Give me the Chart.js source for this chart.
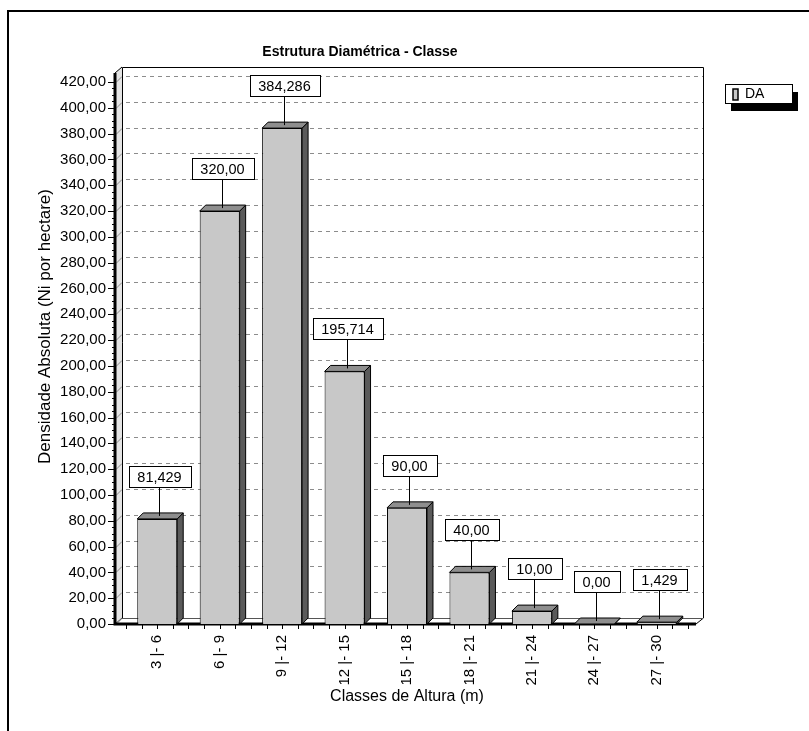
<!DOCTYPE html>
<html>
<head>
<meta charset="utf-8">
<script src="https://cdn.jsdelivr.net/npm/chart.js@4/dist/chart.umd.min.js"></script>
<style>
  html, body { margin: 0; padding: 0; background: #fff; }
  canvas { display: block; }
</style>
</head>
<body>
<canvas id="chart" width="809" height="731"></canvas>
<script>
// Height classes and absolute density per class
const categories = ['3 |- 6', '6 |- 9', '9 |- 12', '12 |- 15', '15 |- 18', '18 |- 21', '21 |- 24', '24 |- 27', '27 |- 30'];
const daValues = [81.429, 320, 384.286, 195.714, 90, 40, 10, 0, 1.429];
const seriesName = 'DA';
const chartTitle = 'Estrutura Diamétrica - Classe';
const xTitle = 'Classes de Altura (m)';
const yTitle = 'Densidade Absoluta (Ni por hectare)';
const yMin = 0;
const yMax = 427;
const yStep = 20;
const yLastTick = 420;

const FONT = "'Liberation Sans', Arial, Helvetica, sans-serif";

// Brazilian number format: 2 decimals, or 3 when needed
function fmt(v) {
  let s = v.toFixed(3);
  if (s.endsWith('0')) s = v.toFixed(2);
  return s.replace('.', ',');
}

function poly(ctx, pts, fill, stroke) {
  ctx.beginPath();
  ctx.moveTo(pts[0][0], pts[0][1]);
  for (let i = 1; i < pts.length; i++) ctx.lineTo(pts[i][0], pts[i][1]);
  ctx.closePath();
  if (fill) { ctx.fillStyle = fill; ctx.fill(); }
  if (stroke) { ctx.strokeStyle = stroke; ctx.stroke(); }
}

// Depth of the walls and of the bars
const WALL_DX = 7, WALL_DY = 6, BAR_D = 6;

const frame3d = {
  id: 'frame3d',
  beforeDraw(chart) {
    const { ctx, chartArea: a } = chart;
    ctx.save();
    ctx.fillStyle = '#fff';
    ctx.fillRect(0, 0, chart.width, chart.height);
    ctx.strokeStyle = '#000';
    ctx.lineWidth = 2;
    ctx.strokeRect(8, 11, chart.width + 40, chart.height + 40);
    ctx.fillStyle = '#000';
    ctx.font = `bold 14px ${FONT}`;
    ctx.textAlign = 'center';
    ctx.textBaseline = 'middle';
    ctx.fillText(chartTitle, 360, 52);
    // vertical axis title
    ctx.font = `17px ${FONT}`;
    ctx.translate(45, (a.top + a.bottom) / 2 - 22);
    ctx.rotate(-Math.PI / 2);
    ctx.fillText(yTitle, 0, 0);
    ctx.restore();
  },
  beforeDatasetsDraw(chart) {
    const { ctx, chartArea: a, scales: { y } } = chart;
    const FL = a.left - 11, FR = a.right + 8, FT = a.top, FB = a.bottom;
    const dx = WALL_DX, dy = WALL_DY;
    ctx.save();
    ctx.lineWidth = 1;
    // back wall
    ctx.fillStyle = '#fff';
    ctx.fillRect(FL + dx, FT - dy, FR - FL, FB - FT);
    // floor
    poly(ctx, [[FL, FB], [FR, FB], [FR + dx, FB - dy], [FL + dx, FB - dy]], '#fff', null);
    // left wall
    poly(ctx, [[FL, FB], [FL + dx, FB - dy], [FL + dx, FT - dy], [FL, FT]], '#e4e4e4', null);
    // dashed grid on the back wall, short marks on the left wall
    ctx.strokeStyle = '#8c8c8c';
    for (let v = 0; v <= yLastTick; v += yStep) {
      const py = Math.round(y.getPixelForValue(v));
      ctx.setLineDash([4, 4]);
      ctx.beginPath();
      ctx.moveTo(FL + dx + 4, py - dy + 0.5);
      ctx.lineTo(FR + dx, py - dy + 0.5);
      ctx.stroke();
      ctx.setLineDash([]);
      ctx.beginPath();
      ctx.moveTo(FL + 1, py + 0.5);
      ctx.lineTo(FL + dx, py - dy + 0.5);
      ctx.stroke();
    }
    ctx.setLineDash([]);
    // outlines
    ctx.strokeStyle = '#000';
    ctx.beginPath();
    ctx.moveTo(FL + dx + 0.5, FB - dy);
    ctx.lineTo(FL + dx + 0.5, FT - dy + 0.5);
    ctx.lineTo(FR + dx + 0.5, FT - dy + 0.5);
    ctx.lineTo(FR + dx + 0.5, FB - dy);
    ctx.lineTo(FR, FB);
    ctx.stroke();
    ctx.beginPath();
    ctx.moveTo(FL, FT);
    ctx.lineTo(FL + dx, FT - dy);
    ctx.stroke();
    ctx.strokeStyle = '#555';
    ctx.beginPath();
    ctx.moveTo(FL + dx, FB - dy + 0.5);
    ctx.lineTo(FR + dx, FB - dy + 0.5);
    ctx.stroke();
    ctx.beginPath();
    ctx.moveTo(FL, FB);
    ctx.lineTo(FL + dx, FB - dy);
    ctx.stroke();
    // front axis lines
    ctx.strokeStyle = '#000';
    ctx.lineWidth = 3;
    ctx.beginPath();
    ctx.moveTo(FL, FT);
    ctx.lineTo(FL, FB);
    ctx.lineTo(FR, FB);
    ctx.stroke();
    // y tick marks (major every 20, minor every 5)
    ctx.lineWidth = 1;
    for (let v = 0; v <= yLastTick; v += 5) {
      const py = Math.round(y.getPixelForValue(v)) + 0.5;
      const len = v % yStep === 0 ? 6 : 2;
      ctx.beginPath();
      ctx.moveTo(FL - 1 - len, py);
      ctx.lineTo(FL - 1, py);
      ctx.stroke();
    }
    // x tick marks every quarter class
    const step = (a.right - a.left) / categories.length / 4;
    for (let i = 0; i <= categories.length * 4; i++) {
      const px = Math.round(a.left + i * step) + 0.5;
      ctx.beginPath();
      ctx.moveTo(px, FB + 1);
      ctx.lineTo(px, FB + 5);
      ctx.stroke();
    }
    ctx.restore();
  },
  afterDatasetsDraw(chart) {
    const { ctx } = chart;
    const meta = chart.getDatasetMeta(0);
    ctx.save();
    ctx.lineWidth = 1;
    meta.data.forEach((bar) => {
      const { x, y: top, base, width } = bar.getProps(['x', 'y', 'base', 'width'], true);
      const l = x - width / 2, r = x + width / 2, d = BAR_D;
      poly(ctx, [[r, top], [r + d, top - d], [r + d, base - d], [r, base]], '#5a5a5a', '#000');
      poly(ctx, [[l, top], [l + d, top - d], [r + d, top - d], [r, top]], '#8e8e8e', '#000');
    });
    // value labels with leader lines
    ctx.font = `14.5px ${FONT}`;
    ctx.textAlign = 'center';
    ctx.textBaseline = 'middle';
    meta.data.forEach((bar, i) => {
      const { x, y: top } = bar.getProps(['x', 'y'], true);
      const txt = fmt(daValues[i]);
      const lx = Math.round(x + 2) + 0.5;
      const boxBottom = Math.round(top - 32);
      const bw = Math.round(ctx.measureText(txt).width + 18);
      const bh = 21;
      ctx.strokeStyle = '#000';
      ctx.beginPath();
      ctx.moveTo(lx, top - 3);
      ctx.lineTo(lx, boxBottom);
      ctx.stroke();
      const bx = Math.round(lx - bw / 2) + 0.5;
      ctx.fillStyle = '#fff';
      ctx.fillRect(bx, boxBottom - bh + 0.5, bw, bh);
      ctx.strokeRect(bx, boxBottom - bh + 0.5, bw, bh);
      ctx.fillStyle = '#000';
      ctx.fillText(txt, lx, boxBottom - bh / 2 + 1);
    });
    ctx.restore();
  },
  afterDraw(chart) {
    // legend box with drop shadow
    const { ctx } = chart;
    ctx.save();
    const lx = 725, ly = 84, lw = 67, lh = 19;
    ctx.fillStyle = '#000';
    ctx.fillRect(lx + 6, ly + 8, lw, lh);
    ctx.fillStyle = '#fff';
    ctx.fillRect(lx, ly, lw, lh);
    ctx.strokeStyle = '#000';
    ctx.lineWidth = 1;
    ctx.strokeRect(lx + 0.5, ly + 0.5, lw, lh);
    ctx.lineWidth = 1.5;
    ctx.fillStyle = '#c8c8c8';
    ctx.fillRect(lx + 8, ly + 5, 5, 11);
    ctx.strokeRect(lx + 8, ly + 5, 5, 11);
    ctx.fillStyle = '#000';
    ctx.font = `14px ${FONT}`;
    ctx.textAlign = 'left';
    ctx.textBaseline = 'middle';
    ctx.fillText(seriesName, lx + 20, ly + lh / 2 + 1);
    ctx.restore();
  }
};

new Chart(document.getElementById('chart'), {
  type: 'bar',
  data: {
    labels: categories,
    datasets: [{
      label: seriesName,
      data: daValues,
      backgroundColor: '#c8c8c8',
      borderColor: '#000',
      borderWidth: 1,
      barPercentage: 0.8,
      categoryPercentage: 0.8
    }]
  },
  options: {
    responsive: false,
    animation: false,
    devicePixelRatio: 1,
    layout: { padding: { left: 37, right: 121, top: 73, bottom: 25 } },
    plugins: {
      legend: { display: false },
      title: { display: false },
      tooltip: { enabled: false }
    },
    scales: {
      x: {
        grid: { display: false, drawTicks: false },
        border: { display: false },
        ticks: {
          autoSkip: false, maxRotation: 90, minRotation: 90, padding: 11,
          color: '#000', font: { family: FONT, size: 15 }
        },
        title: {
          display: true, text: xTitle, color: '#000', padding: 0,
          font: { family: FONT, size: 16 }
        },
        afterFit(scale) { scale.height = 82; }
      },
      y: {
        min: yMin, max: yMax,
        grid: { display: false, drawTicks: false },
        border: { display: false },
        ticks: {
          padding: 20, color: '#000',
          font: { family: FONT, size: 15 },
          callback: (v) => fmt(v)
        },
        afterBuildTicks(scale) {
          const t = [];
          for (let v = yMin; v <= yLastTick; v += yStep) t.push({ value: v });
          scale.ticks = t;
        },
        afterFit(scale) { scale.width = 89; }
      }
    }
  },
  plugins: [frame3d]
});
</script>
</body>
</html>
